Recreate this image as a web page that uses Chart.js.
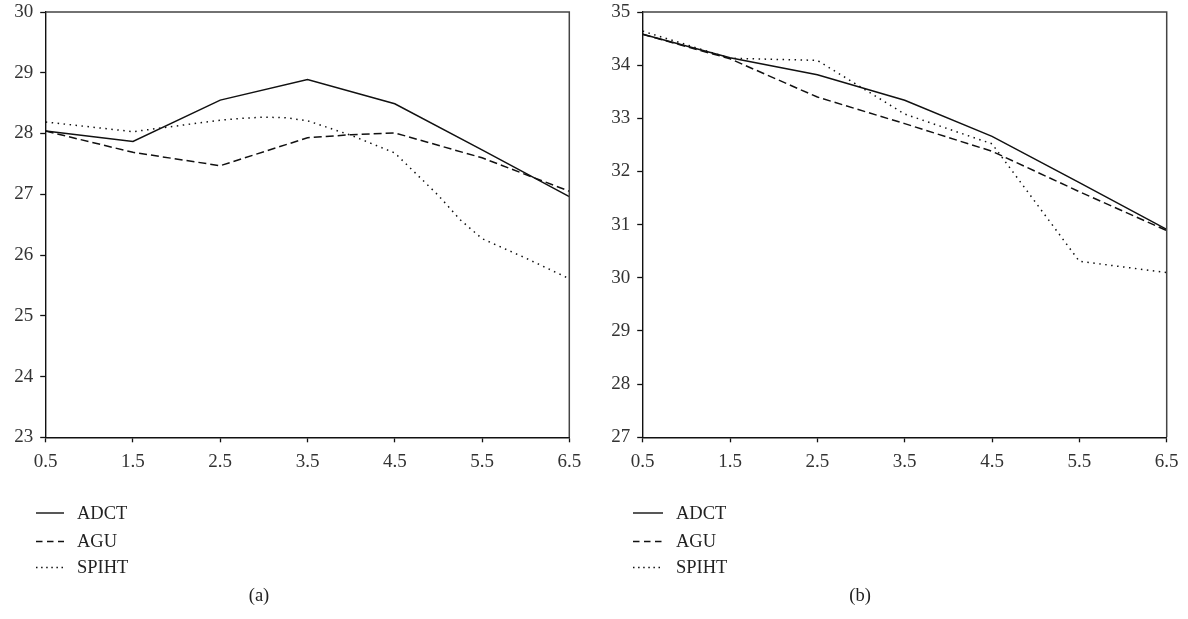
<!DOCTYPE html>
<html>
<head>
<meta charset="utf-8">
<script src="https://cdn.jsdelivr.net/npm/chart.js@4.4.1/dist/chart.umd.min.js"></script>
<style>
  body { margin: 0; background: #fff; }
  #wrap { position: relative; width: 1188px; height: 619px; }
  canvas { position: absolute; top: 0; }
</style>
</head>
<body>
<div id="wrap">
  <canvas id="chartA" width="594" height="619" style="left:0"></canvas>
  <canvas id="chartB" width="594" height="619" style="left:594px"></canvas>
</div>
<script>
// Data
const seriesNames = ['ADCT', 'AGU', 'SPIHT'];
const xTicks = [0.5, 1.5, 2.5, 3.5, 4.5, 5.5, 6.5];

// panel (a)
const aYTicks = [23, 24, 25, 26, 27, 28, 29, 30];
const aAdctX = [0.5, 1.5, 2.5, 3.5, 4.5, 5.5, 6.5];
const aAdctY = [28.04, 27.87, 28.55, 28.89, 28.49, 27.73, 26.96];
const aAguX = [0.5, 1.5, 2.5, 3.5, 4.0, 4.5, 5.5, 6.5];
const aAguY = [28.04, 27.69, 27.47, 27.93, 27.98, 28.01, 27.60, 27.05];
const aSpihtX = [0.5, 1.5, 2.5, 2.75, 3.0, 3.25, 3.5, 4.0, 4.5, 5.0, 5.25, 5.5, 6.0, 6.5];
const aSpihtY = [28.19, 28.03, 28.22, 28.25, 28.27, 28.26, 28.21, 27.97, 27.68, 26.98, 26.58, 26.27, 25.95, 25.61];

// panel (b)
const bYTicks = [27, 28, 29, 30, 31, 32, 33, 34, 35];
const bAdctX = [0.5, 1.5, 2.5, 3.5, 4.5, 5.5, 6.5];
const bAdctY = [34.58, 34.14, 33.82, 33.34, 32.66, 31.79, 30.91];
const bAguX = [0.5, 1.5, 2.5, 3.5, 4.5, 5.5, 6.5];
const bAguY = [34.58, 34.12, 33.40, 32.90, 32.38, 31.62, 30.89];
const bSpihtX = [0.5, 1.5, 2.5, 3.5, 4.5, 5.5, 6.5];
const bSpihtY = [34.64, 34.13, 34.09, 33.08, 32.52, 30.31, 30.10];

const lineDash = [[], [8, 4], [1.5, 4.5]];
const legendDash = [[], [6.5, 4.5], [1.5, 3.6]];
const ink = '#111';
const serif = '"Liberation Serif", "Times New Roman", serif';

const toPoints = (xs, ys) => xs.map((x, i) => ({ x: x, y: ys[i] }));

// legend rows + caption under each panel
const legendPlugin = {
    id: 'panelLegend',
    afterDraw(chart, args, opts) {
        const ctx = chart.ctx;
        ctx.save();
        ctx.font = '18.5px ' + serif;
        ctx.textBaseline = 'middle';
        ctx.fillStyle = '#222';
        ctx.strokeStyle = ink;
        ctx.lineWidth = 1.4;
        chart.data.datasets.forEach((ds, i) => {
            const y = opts.rowY[i];
            ctx.setLineDash(legendDash[i]);
            ctx.beginPath();
            ctx.moveTo(opts.lineX[0], y);
            ctx.lineTo(opts.lineX[1], y);
            ctx.stroke();
            ctx.setLineDash([]);
            ctx.fillText(ds.label, opts.textX, y + 1);
        });
        ctx.textAlign = 'center';
        ctx.fillText(opts.caption, opts.captionX, opts.captionY);
        ctx.restore();
    }
};

// top and right edges of the plot box
const framePlugin = {
    id: 'frame',
    afterDraw(chart) {
        const a = chart.chartArea;
        const ctx = chart.ctx;
        ctx.save();
        ctx.strokeStyle = '#444';
        ctx.lineWidth = 1.5;
        ctx.beginPath();
        ctx.moveTo(a.left, a.top);
        ctx.lineTo(a.right, a.top);
        ctx.lineTo(a.right, a.bottom);
        ctx.stroke();
        ctx.restore();
    }
};

function makePanel(canvasId, cfg) {
    const datasets = cfg.series.map((s, i) => ({
        label: seriesNames[i],
        data: toPoints(s[0], s[1]),
        borderColor: ink,
        borderWidth: 1.5,
        borderDash: lineDash[i],
        pointRadius: 0,
        tension: 0,
        fill: false
    }));

    return new Chart(document.getElementById(canvasId), {
        type: 'line',
        data: { datasets: datasets },
        plugins: [framePlugin, legendPlugin],
        options: {
            responsive: false,
            animation: false,
            devicePixelRatio: 1,
            layout: { padding: { top: 12, right: cfg.rightPad, bottom: 0, left: 0 } },
            plugins: {
                legend: { display: false },
                tooltip: { enabled: false },
                panelLegend: cfg.legend
            },
            scales: {
                x: {
                    type: 'linear',
                    min: 0.5,
                    max: 6.5,
                    afterBuildTicks: s => { s.ticks = xTicks.map(v => ({ value: v })); },
                    afterFit: s => { s.height = 619 - 437.3; s.paddingLeft = 0; s.paddingRight = 0; },
                    grid: { drawOnChartArea: false, tickLength: 5, tickColor: ink, tickWidth: 1.3 },
                    border: { color: ink, width: 1.4 },
                    ticks: {
                        color: '#333',
                        padding: 8,
                        maxRotation: 0,
                        font: { family: serif, size: 19 },
                        callback: v => v.toFixed(1)
                    }
                },
                y: {
                    min: cfg.yTicks[0],
                    max: cfg.yTicks[cfg.yTicks.length - 1],
                    afterBuildTicks: s => { s.ticks = cfg.yTicks.map(v => ({ value: v })); },
                    afterFit: s => { s.width = cfg.yWidth; s.paddingTop = 0; s.paddingBottom = 0; },
                    grid: { drawOnChartArea: false, tickLength: 5.5, tickColor: ink, tickWidth: 1.3 },
                    border: { color: ink, width: 1.4 },
                    ticks: {
                        color: '#333',
                        padding: 7,
                        font: { family: serif, size: 19 },
                        callback: v => String(v)
                    }
                }
            }
        }
    });
}

makePanel('chartA', {
    series: [[aAdctX, aAdctY], [aAguX, aAguY], [aSpihtX, aSpihtY]],
    yTicks: aYTicks,
    yWidth: 45.7,
    rightPad: 24.7,
    legend: { rowY: [513, 541.5, 567.5], lineX: [36, 64], textX: 77, caption: '(a)', captionX: 259, captionY: 596 }
});

makePanel('chartB', {
    series: [[bAdctX, bAdctY], [bAguX, bAguY], [bSpihtX, bSpihtY]],
    yTicks: bYTicks,
    yWidth: 48.7,
    rightPad: 21.3,
    legend: { rowY: [513, 541.5, 567.5], lineX: [39, 69], textX: 82, caption: '(b)', captionX: 266, captionY: 596 }
});
</script>
</body>
</html>
